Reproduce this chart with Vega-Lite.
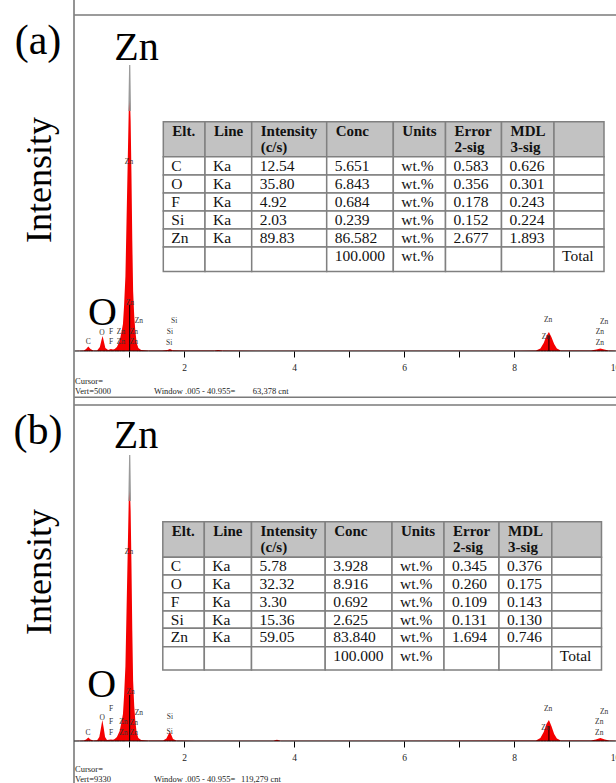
{
  "$schema": "https://vega.github.io/schema/vega-lite/v6.json",
  "width": 616,
  "height": 783,
  "autosize": {"type": "none"},
  "padding": 0,
  "background": "white",
  "config": {"view": {"stroke": null}},
  "datasets": {
    "specA": [
      {"e":0.005,"c":0},{"e":0.1,"c":4},{"e":0.18,"c":7},{"e":0.22,"c":30},{"e":0.26,"c":67},{"e":0.3,"c":30},{"e":0.35,"c":7},{"e":0.42,"c":9},{"e":0.47,"c":60},{"e":0.5,"c":164},{"e":0.52,"c":223},{"e":0.545,"c":134},{"e":0.57,"c":45},{"e":0.62,"c":15},{"e":0.67,"c":30},{"e":0.71,"c":22},
      {"e":0.74,"c":30},{"e":0.78,"c":60},{"e":0.83,"c":149},{"e":0.86,"c":268},{"e":0.89,"c":402},{"e":0.91,"c":670},{"e":0.935,"c":1116},{"e":0.955,"c":1934},{"e":0.975,"c":2753},{"e":0.995,"c":3571},{"e":1.012,"c":3913},{"e":1.03,"c":3422},{"e":1.045,"c":2604},{"e":1.06,"c":1637},{"e":1.075,"c":893},{"e":1.095,"c":521},{"e":1.115,"c":298},{"e":1.14,"c":119},{"e":1.17,"c":45},{"e":1.22,"c":15},
      {"e":1.35,"c":9},{"e":1.6,"c":7},{"e":1.7,"c":15},{"e":1.745,"c":30},{"e":1.79,"c":12},{"e":2.0,"c":6},{"e":2.55,"c":6},{"e":2.62,"c":15},{"e":2.7,"c":6},{"e":4.0,"c":4},{"e":6.0,"c":4},{"e":8.0,"c":4},{"e":8.4,"c":9},{"e":8.48,"c":37},{"e":8.54,"c":119},{"e":8.59,"c":223},{"e":8.635,"c":283},{"e":8.68,"c":208},{"e":8.73,"c":104},{"e":8.78,"c":37},{"e":8.85,"c":9},{"e":9.4,"c":6},{"e":9.5,"c":22},{"e":9.57,"c":37},{"e":9.64,"c":22},{"e":9.72,"c":6},{"e":9.85,"c":4},{"e":10.4,"c":4}
    ],
    "specB": [
      {"e":0.005,"c":0},{"e":0.1,"c":8},{"e":0.18,"c":14},{"e":0.22,"c":42},{"e":0.26,"c":97},{"e":0.3,"c":42},{"e":0.35,"c":11},{"e":0.42,"c":22},{"e":0.46,"c":111},{"e":0.49,"c":361},{"e":0.515,"c":583},{"e":0.54,"c":361},{"e":0.565,"c":111},{"e":0.6,"c":28},{"e":0.67,"c":42},{"e":0.71,"c":33},
      {"e":0.74,"c":56},{"e":0.78,"c":111},{"e":0.83,"c":278},{"e":0.86,"c":500},{"e":0.89,"c":750},{"e":0.91,"c":1250},{"e":0.935,"c":2083},{"e":0.955,"c":3610},{"e":0.975,"c":5137},{"e":0.995,"c":6665},{"e":1.012,"c":7248},{"e":1.03,"c":6387},{"e":1.045,"c":4860},{"e":1.06,"c":3055},{"e":1.075,"c":1666},{"e":1.095,"c":972},{"e":1.115,"c":555},{"e":1.14,"c":222},{"e":1.17,"c":83},{"e":1.22,"c":28},
      {"e":1.35,"c":14},{"e":1.62,"c":14},{"e":1.68,"c":69},{"e":1.72,"c":194},{"e":1.745,"c":250},{"e":1.77,"c":167},{"e":1.8,"c":56},{"e":1.86,"c":14},{"e":2.2,"c":8},{"e":3.62,"c":8},{"e":3.69,"c":36},{"e":3.76,"c":8},{"e":6.0,"c":8},{"e":8.4,"c":17},{"e":8.48,"c":83},{"e":8.54,"c":250},{"e":8.59,"c":472},{"e":8.635,"c":583},{"e":8.68,"c":417},{"e":8.73,"c":194},{"e":8.78,"c":69},{"e":8.85,"c":17},{"e":9.4,"c":11},{"e":9.49,"c":42},{"e":9.57,"c":83},{"e":9.65,"c":42},{"e":9.73,"c":11},{"e":9.85,"c":8},{"e":10.4,"c":8}
    ],
    "tipA": [{"e":0.998,"c":3571},{"e":1.013,"c":4256},{"e":1.026,"c":3571}],
    "tipB": [{"e":0.998,"c":6665},{"e":1.013,"c":7942},{"e":1.026,"c":6665}],
    "markA": [{"e":1.012,"c":684},{"e":8.635,"c":223}],
    "markB": [{"e":1.012,"c":1277},{"e":8.635,"c":417}],
    "labA": [
      {"e":0.26,"c":134,"t":"C"},{"e":0.51,"c":268,"t":"O"},{"e":0.673,"c":446,"t":"F"},{"e":0.673,"c":283,"t":"F"},{"e":0.673,"c":134,"t":"F"},{"e":0.855,"c":283,"t":"Zn"},{"e":0.855,"c":134,"t":"Zn"},{"e":1.18,"c":446,"t":"Zn"},{"e":1.09,"c":283,"t":"Zn"},{"e":1.09,"c":134,"t":"Zn"},{"e":1.02,"c":714,"t":"Zn"},{"e":1.0,"c":2812,"t":"Zn"},{"e":1.82,"c":446,"t":"Si"},{"e":1.745,"c":283,"t":"Si"},{"e":1.73,"c":119,"t":"Si"},{"e":8.62,"c":461,"t":"Zn"},{"e":8.58,"c":208,"t":"Zn"},{"e":9.64,"c":432,"t":"Zn"},{"e":9.56,"c":283,"t":"Zn"},{"e":9.56,"c":119,"t":"Zn"}
    ],
    "labB": [
      {"e":0.255,"c":230,"t":"C"},{"e":0.515,"c":630,"t":"O"},{"e":0.673,"c":880,"t":"F"},{"e":0.673,"c":519,"t":"F"},{"e":0.673,"c":230,"t":"F"},{"e":0.897,"c":519,"t":"Zn"},{"e":0.897,"c":230,"t":"Zn"},{"e":1.18,"c":786,"t":"Zn"},{"e":1.09,"c":492,"t":"Zn"},{"e":1.09,"c":214,"t":"Zn"},{"e":1.03,"c":1361,"t":"Zn"},{"e":1.0,"c":5249,"t":"Zn"},{"e":1.745,"c":658,"t":"Si"},{"e":1.74,"c":258,"t":"Si"},{"e":8.62,"c":889,"t":"Zn"},{"e":8.57,"c":369,"t":"Zn"},{"e":9.64,"c":797,"t":"Zn"},{"e":9.55,"c":519,"t":"Zn"},{"e":9.55,"c":214,"t":"Zn"}
    ],
    "tabA": [
      {"r":0,"c":0,"t":"Elt."},{"r":0,"c":1,"t":"Line"},{"r":0,"c":2,"t":"Intensity\n(c/s)"},{"r":0,"c":3,"t":"Conc"},{"r":0,"c":4,"t":"Units"},{"r":0,"c":5,"t":"Error\n2-sig"},{"r":0,"c":6,"t":"MDL\n3-sig"},{"r":0,"c":7,"t":""},
      {"r":1,"c":0,"t":"C"},{"r":1,"c":1,"t":"Ka"},{"r":1,"c":2,"t":"12.54"},{"r":1,"c":3,"t":"5.651"},{"r":1,"c":4,"t":"wt.%"},{"r":1,"c":5,"t":"0.583"},{"r":1,"c":6,"t":"0.626"},{"r":1,"c":7,"t":""},
      {"r":2,"c":0,"t":"O"},{"r":2,"c":1,"t":"Ka"},{"r":2,"c":2,"t":"35.80"},{"r":2,"c":3,"t":"6.843"},{"r":2,"c":4,"t":"wt.%"},{"r":2,"c":5,"t":"0.356"},{"r":2,"c":6,"t":"0.301"},{"r":2,"c":7,"t":""},
      {"r":3,"c":0,"t":"F"},{"r":3,"c":1,"t":"Ka"},{"r":3,"c":2,"t":"4.92"},{"r":3,"c":3,"t":"0.684"},{"r":3,"c":4,"t":"wt.%"},{"r":3,"c":5,"t":"0.178"},{"r":3,"c":6,"t":"0.243"},{"r":3,"c":7,"t":""},
      {"r":4,"c":0,"t":"Si"},{"r":4,"c":1,"t":"Ka"},{"r":4,"c":2,"t":"2.03"},{"r":4,"c":3,"t":"0.239"},{"r":4,"c":4,"t":"wt.%"},{"r":4,"c":5,"t":"0.152"},{"r":4,"c":6,"t":"0.224"},{"r":4,"c":7,"t":""},
      {"r":5,"c":0,"t":"Zn"},{"r":5,"c":1,"t":"Ka"},{"r":5,"c":2,"t":"89.83"},{"r":5,"c":3,"t":"86.582"},{"r":5,"c":4,"t":"wt.%"},{"r":5,"c":5,"t":"2.677"},{"r":5,"c":6,"t":"1.893"},{"r":5,"c":7,"t":""},
      {"r":6,"c":0,"t":""},{"r":6,"c":1,"t":""},{"r":6,"c":2,"t":""},{"r":6,"c":3,"t":"100.000"},{"r":6,"c":4,"t":"wt.%"},{"r":6,"c":5,"t":""},{"r":6,"c":6,"t":""},{"r":6,"c":7,"t":"Total"}
    ],
    "tabB": [
      {"r":0,"c":0,"t":"Elt."},{"r":0,"c":1,"t":"Line"},{"r":0,"c":2,"t":"Intensity\n(c/s)"},{"r":0,"c":3,"t":"Conc"},{"r":0,"c":4,"t":"Units"},{"r":0,"c":5,"t":"Error\n2-sig"},{"r":0,"c":6,"t":"MDL\n3-sig"},{"r":0,"c":7,"t":""},
      {"r":1,"c":0,"t":"C"},{"r":1,"c":1,"t":"Ka"},{"r":1,"c":2,"t":"5.78"},{"r":1,"c":3,"t":"3.928"},{"r":1,"c":4,"t":"wt.%"},{"r":1,"c":5,"t":"0.345"},{"r":1,"c":6,"t":"0.376"},{"r":1,"c":7,"t":""},
      {"r":2,"c":0,"t":"O"},{"r":2,"c":1,"t":"Ka"},{"r":2,"c":2,"t":"32.32"},{"r":2,"c":3,"t":"8.916"},{"r":2,"c":4,"t":"wt.%"},{"r":2,"c":5,"t":"0.260"},{"r":2,"c":6,"t":"0.175"},{"r":2,"c":7,"t":""},
      {"r":3,"c":0,"t":"F"},{"r":3,"c":1,"t":"Ka"},{"r":3,"c":2,"t":"3.30"},{"r":3,"c":3,"t":"0.692"},{"r":3,"c":4,"t":"wt.%"},{"r":3,"c":5,"t":"0.109"},{"r":3,"c":6,"t":"0.143"},{"r":3,"c":7,"t":""},
      {"r":4,"c":0,"t":"Si"},{"r":4,"c":1,"t":"Ka"},{"r":4,"c":2,"t":"15.36"},{"r":4,"c":3,"t":"2.625"},{"r":4,"c":4,"t":"wt.%"},{"r":4,"c":5,"t":"0.131"},{"r":4,"c":6,"t":"0.130"},{"r":4,"c":7,"t":""},
      {"r":5,"c":0,"t":"Zn"},{"r":5,"c":1,"t":"Ka"},{"r":5,"c":2,"t":"59.05"},{"r":5,"c":3,"t":"83.840"},{"r":5,"c":4,"t":"wt.%"},{"r":5,"c":5,"t":"1.694"},{"r":5,"c":6,"t":"0.746"},{"r":5,"c":7,"t":""},
      {"r":6,"c":0,"t":""},{"r":6,"c":1,"t":""},{"r":6,"c":2,"t":""},{"r":6,"c":3,"t":"100.000"},{"r":6,"c":4,"t":"wt.%"},{"r":6,"c":5,"t":""},{"r":6,"c":6,"t":""},{"r":6,"c":7,"t":"Total"}
    ]
  },
  "layer": [
    {
      "layer": [
        {"data": {"name": "specA"}, "mark": {"type": "area", "color": "#f40000", "interpolate": "linear"},
         "encoding": {
           "x": {"field": "e", "type": "quantitative", "scale": {"domain": [-1.3455, 10.2], "range": [0, 635], "padding": 0, "nice": false, "zero": false},
                 "axis": {"orient": "bottom", "offset": -432, "zindex": 2, "values": [1,2,3,4,5,6,7,8,9,10], "domain": false, "grid": false, "ticks": true, "tickColor": "#000", "tickSize": 6, "tickWidth": 1, "labels": true, "labelFont": "Liberation Serif", "labelFontSize": 9.5, "labelColor": "#222", "labelPadding": 5, "labelOverlap": false, "labelFlush": false, "labelExpr": "datum.value === 10 ? '10 keV' : (datum.value % 2 === 0 ? datum.label : '')", "title": null}},
           "y": {"field": "c", "type": "quantitative", "scale": {"domain": [-6428.6, 5223.2], "nice": false, "zero": false}, "axis": null}}},
        {"data": {"name": "specA"}, "mark": {"type": "line", "color": "#000", "strokeWidth": 1},
         "encoding": {"x": {"field": "e", "type": "quantitative"}, "y": {"datum": 0, "type": "quantitative", "axis": null}}},
        {"data": {"name": "specA"}, "mark": {"type": "line", "color": "#7a7a7a", "strokeWidth": 1.6},
         "encoding": {"x": {"field": "e", "type": "quantitative"}, "y": {"datum": 5000, "type": "quantitative", "axis": null}}},
        {"data": {"name": "specA"}, "mark": {"type": "line", "color": "#7a7a7a", "strokeWidth": 1.6},
         "encoding": {"x": {"field": "e", "type": "quantitative"}, "y": {"datum": -689, "type": "quantitative", "axis": null}}},
        {"data": {"values": [{}]}, "mark": {"type": "rule", "color": "#7a7a7a", "strokeWidth": 1.6},
         "encoding": {"x": {"datum": 0, "type": "quantitative"}}},
        {"data": {"name": "tipA"}, "mark": {"type": "line", "color": "#9a9a9a", "strokeWidth": 1.2},
         "encoding": {"x": {"field": "e", "type": "quantitative"}, "y": {"field": "c", "type": "quantitative", "axis": null}}},
        {"data": {"name": "markA"}, "mark": {"type": "bar", "color": "#000", "width": 1},
         "encoding": {"x": {"field": "e", "type": "quantitative"}, "y": {"field": "c", "type": "quantitative", "axis": null}}},
        {"data": {"name": "labA"}, "mark": {"type": "text", "font": "Liberation Serif", "fontSize": 7.5, "color": "#333", "align": "center", "baseline": "middle"},
         "encoding": {"x": {"field": "e", "type": "quantitative"}, "y": {"field": "c", "type": "quantitative", "axis": null}, "text": {"field": "t", "type": "nominal"}}},
        {"data": {"values": [{}]}, "mark": {"type": "text", "text": "(a)", "font": "Liberation Serif", "fontSize": 42, "color": "#000", "align": "center", "baseline": "alphabetic"},
         "encoding": {"x": {"datum": -0.655, "type": "quantitative"}, "y": {"datum": 4419, "type": "quantitative", "axis": null}}},
        {"data": {"values": [{}]}, "mark": {"type": "text", "text": "Intensity", "font": "Liberation Serif", "fontSize": 36, "color": "#000", "align": "center", "baseline": "alphabetic", "angle": 270},
         "encoding": {"x": {"datum": -0.418, "type": "quantitative"}, "y": {"datum": 2544, "type": "quantitative", "axis": null}}},
        {"data": {"values": [{}]}, "mark": {"type": "text", "text": "Zn", "font": "Liberation Serif", "fontSize": 40, "color": "#000", "align": "center", "baseline": "alphabetic"},
         "encoding": {"x": {"datum": 1.136, "type": "quantitative"}, "y": {"datum": 4330, "type": "quantitative", "axis": null}}},
        {"data": {"values": [{}]}, "mark": {"type": "text", "text": "O", "font": "Liberation Serif", "fontSize": 40, "color": "#000", "align": "center", "baseline": "alphabetic"},
         "encoding": {"x": {"datum": 0.518, "type": "quantitative"}, "y": {"datum": 387, "type": "quantitative", "axis": null}}},
        {"data": {"values": [{}]}, "mark": {"type": "text", "text": "Cursor=", "font": "Liberation Serif", "fontSize": 8.5, "color": "#222", "align": "left", "baseline": "middle", "dx": 1},
         "encoding": {"x": {"datum": 0, "type": "quantitative"}, "y": {"datum": -446, "type": "quantitative", "axis": null}}},
        {"data": {"values": [{}]}, "mark": {"type": "text", "text": "Vert=5000", "font": "Liberation Serif", "fontSize": 8.5, "color": "#222", "align": "left", "baseline": "middle", "dx": 1},
         "encoding": {"x": {"datum": 0, "type": "quantitative"}, "y": {"datum": -595, "type": "quantitative", "axis": null}}},
        {"data": {"values": [{}]}, "mark": {"type": "text", "text": "Window .005 - 40.955=", "font": "Liberation Serif", "fontSize": 8.5, "color": "#222", "align": "left", "baseline": "middle"},
         "encoding": {"x": {"datum": 1.455, "type": "quantitative"}, "y": {"datum": -595, "type": "quantitative", "axis": null}}},
        {"data": {"values": [{}]}, "mark": {"type": "text", "text": "63,378 cnt", "font": "Liberation Serif", "fontSize": 8.5, "color": "#222", "align": "left", "baseline": "middle"},
         "encoding": {"x": {"datum": 3.25, "type": "quantitative"}, "y": {"datum": -595, "type": "quantitative", "axis": null}}}
      ]
    },
    {
      "data": {"name": "tabA"},
      "layer": [
        {"transform": [{"calculate": "datum.c + 1", "as": "c2"}, {"calculate": "datum.r + 1", "as": "r2"}],
         "mark": {"type": "rect", "stroke": "#808080", "strokeWidth": 1.5},
         "encoding": {
           "x": {"field": "c", "type": "quantitative", "scale": {"domain": [0,1,2,3,4,5,6,7,8], "range": [163.3,205,251.7,326.7,393.3,445.5,501.5,554,604], "nice": false, "zero": false}, "axis": null},
           "x2": {"field": "c2"},
           "y": {"field": "r", "type": "quantitative", "scale": {"domain": [0,1,2,3,4,5,6,7], "range": [121.7,156.7,175,193,211,229,247,271.5], "nice": false, "zero": false}, "axis": null},
           "y2": {"field": "r2"},
           "fill": {"condition": {"test": "datum.r === 0", "value": "#c2c2c2"}, "value": "#ffffff"}}},
        {"transform": [{"filter": "datum.r === 0 && datum.t !== ''"}],
         "mark": {"type": "text", "font": "Liberation Serif", "fontSize": 15, "fontWeight": "bold", "color": "#111", "align": "left", "baseline": "top", "dx": 9, "dy": 2, "lineBreak": "\n", "lineHeight": 16},
         "encoding": {"x": {"field": "c", "type": "quantitative", "axis": null}, "y": {"field": "r", "type": "quantitative", "axis": null}, "text": {"field": "t", "type": "nominal"}}},
        {"transform": [{"filter": "datum.r > 0 && datum.t !== ''"}],
         "mark": {"type": "text", "font": "Liberation Serif", "fontSize": 15.5, "color": "#111", "align": "left", "baseline": "top", "dx": 8, "dy": 2},
         "encoding": {"x": {"field": "c", "type": "quantitative", "axis": null}, "y": {"field": "r", "type": "quantitative", "axis": null}, "text": {"field": "t", "type": "nominal"}}}
      ]
    },
    {
      "layer": [
        {"data": {"name": "specB"}, "mark": {"type": "area", "color": "#f40000", "interpolate": "linear"},
         "encoding": {
           "x": {"field": "e", "type": "quantitative", "scale": {"domain": [-1.3455, 10.2], "range": [0, 635], "padding": 0, "nice": false, "zero": false},
                 "axis": {"orient": "bottom", "offset": -42, "zindex": 2, "values": [1,2,3,4,5,6,7,8,9,10], "domain": false, "grid": false, "ticks": true, "tickColor": "#000", "tickSize": 6, "tickWidth": 1, "labels": true, "labelFont": "Liberation Serif", "labelFontSize": 9.5, "labelColor": "#222", "labelPadding": 5, "labelOverlap": false, "labelFlush": false, "labelExpr": "datum.value === 10 ? '10 keV' : (datum.value % 2 === 0 ? datum.label : '')", "title": null}},
           "y": {"field": "c", "type": "quantitative", "scale": {"domain": [-1166.2, 20576], "nice": false, "zero": false}, "axis": null}}},
        {"data": {"name": "specB"}, "mark": {"type": "line", "color": "#000", "strokeWidth": 1},
         "encoding": {"x": {"field": "e", "type": "quantitative"}, "y": {"datum": 0, "type": "quantitative", "axis": null}}},
        {"data": {"name": "specB"}, "mark": {"type": "line", "color": "#7a7a7a", "strokeWidth": 1.6},
         "encoding": {"x": {"field": "e", "type": "quantitative"}, "y": {"datum": 9330, "type": "quantitative", "axis": null}}},
        {"data": {"name": "tipB"}, "mark": {"type": "line", "color": "#9a9a9a", "strokeWidth": 1.2},
         "encoding": {"x": {"field": "e", "type": "quantitative"}, "y": {"field": "c", "type": "quantitative", "axis": null}}},
        {"data": {"name": "markB"}, "mark": {"type": "bar", "color": "#000", "width": 1},
         "encoding": {"x": {"field": "e", "type": "quantitative"}, "y": {"field": "c", "type": "quantitative", "axis": null}}},
        {"data": {"name": "labB"}, "mark": {"type": "text", "font": "Liberation Serif", "fontSize": 7.5, "color": "#333", "align": "center", "baseline": "middle"},
         "encoding": {"x": {"field": "e", "type": "quantitative"}, "y": {"field": "c", "type": "quantitative", "axis": null}, "text": {"field": "t", "type": "nominal"}}},
        {"data": {"values": [{}]}, "mark": {"type": "text", "text": "(b)", "font": "Liberation Serif", "fontSize": 42, "color": "#000", "align": "center", "baseline": "alphabetic"},
         "encoding": {"x": {"datum": -0.655, "type": "quantitative"}, "y": {"datum": 8248, "type": "quantitative", "axis": null}}},
        {"data": {"values": [{}]}, "mark": {"type": "text", "text": "Intensity", "font": "Liberation Serif", "fontSize": 36, "color": "#000", "align": "center", "baseline": "alphabetic", "angle": 270},
         "encoding": {"x": {"datum": -0.418, "type": "quantitative"}, "y": {"datum": 4693, "type": "quantitative", "axis": null}}},
        {"data": {"values": [{}]}, "mark": {"type": "text", "text": "Zn", "font": "Liberation Serif", "fontSize": 40, "color": "#000", "align": "center", "baseline": "alphabetic"},
         "encoding": {"x": {"datum": 1.127, "type": "quantitative"}, "y": {"datum": 8137, "type": "quantitative", "axis": null}}},
        {"data": {"values": [{}]}, "mark": {"type": "text", "text": "O", "font": "Liberation Serif", "fontSize": 40, "color": "#000", "align": "center", "baseline": "alphabetic"},
         "encoding": {"x": {"datum": 0.504, "type": "quantitative"}, "y": {"datum": 1230, "type": "quantitative", "axis": null}}},
        {"data": {"values": [{}]}, "mark": {"type": "text", "text": "Cursor=", "font": "Liberation Serif", "fontSize": 8.5, "color": "#222", "align": "left", "baseline": "middle", "dx": 1},
         "encoding": {"x": {"datum": 0, "type": "quantitative"}, "y": {"datum": -778, "type": "quantitative", "axis": null}}},
        {"data": {"values": [{}]}, "mark": {"type": "text", "text": "Vert=9330", "font": "Liberation Serif", "fontSize": 8.5, "color": "#222", "align": "left", "baseline": "middle", "dx": 1},
         "encoding": {"x": {"datum": 0, "type": "quantitative"}, "y": {"datum": -1055, "type": "quantitative", "axis": null}}},
        {"data": {"values": [{}]}, "mark": {"type": "text", "text": "Window .005 - 40.955=", "font": "Liberation Serif", "fontSize": 8.5, "color": "#222", "align": "left", "baseline": "middle"},
         "encoding": {"x": {"datum": 1.455, "type": "quantitative"}, "y": {"datum": -1055, "type": "quantitative", "axis": null}}},
        {"data": {"values": [{}]}, "mark": {"type": "text", "text": "119,279 cnt", "font": "Liberation Serif", "fontSize": 8.5, "color": "#222", "align": "left", "baseline": "middle"},
         "encoding": {"x": {"datum": 3.036, "type": "quantitative"}, "y": {"datum": -1055, "type": "quantitative", "axis": null}}}
      ]
    },
    {
      "data": {"name": "tabB"},
      "layer": [
        {"transform": [{"calculate": "datum.c + 1", "as": "c2"}, {"calculate": "datum.r + 1", "as": "r2"}],
         "mark": {"type": "rect", "stroke": "#808080", "strokeWidth": 1.5},
         "encoding": {
           "x": {"field": "c", "type": "quantitative", "scale": {"domain": [0,1,2,3,4,5,6,7,8], "range": [162.8,204.3,251.5,325.2,392,444,499,551.8,601.5], "nice": false, "zero": false}, "axis": null},
           "x2": {"field": "c2"},
           "y": {"field": "r", "type": "quantitative", "scale": {"domain": [0,1,2,3,4,5,6,7], "range": [521.7,557.3,575,592.7,611,628.3,646.7,670], "nice": false, "zero": false}, "axis": null},
           "y2": {"field": "r2"},
           "fill": {"condition": {"test": "datum.r === 0", "value": "#c2c2c2"}, "value": "#ffffff"}}},
        {"transform": [{"filter": "datum.r === 0 && datum.t !== ''"}],
         "mark": {"type": "text", "font": "Liberation Serif", "fontSize": 15, "fontWeight": "bold", "color": "#111", "align": "left", "baseline": "top", "dx": 9, "dy": 2, "lineBreak": "\n", "lineHeight": 16},
         "encoding": {"x": {"field": "c", "type": "quantitative", "axis": null}, "y": {"field": "r", "type": "quantitative", "axis": null}, "text": {"field": "t", "type": "nominal"}}},
        {"transform": [{"filter": "datum.r > 0 && datum.t !== ''"}],
         "mark": {"type": "text", "font": "Liberation Serif", "fontSize": 15.5, "color": "#111", "align": "left", "baseline": "top", "dx": 8, "dy": 2},
         "encoding": {"x": {"field": "c", "type": "quantitative", "axis": null}, "y": {"field": "r", "type": "quantitative", "axis": null}, "text": {"field": "t", "type": "nominal"}}}
      ]
    }
  ],
  "resolve": {"scale": {"x": "independent", "y": "independent"}, "axis": {"x": "independent", "y": "independent"}}
}
